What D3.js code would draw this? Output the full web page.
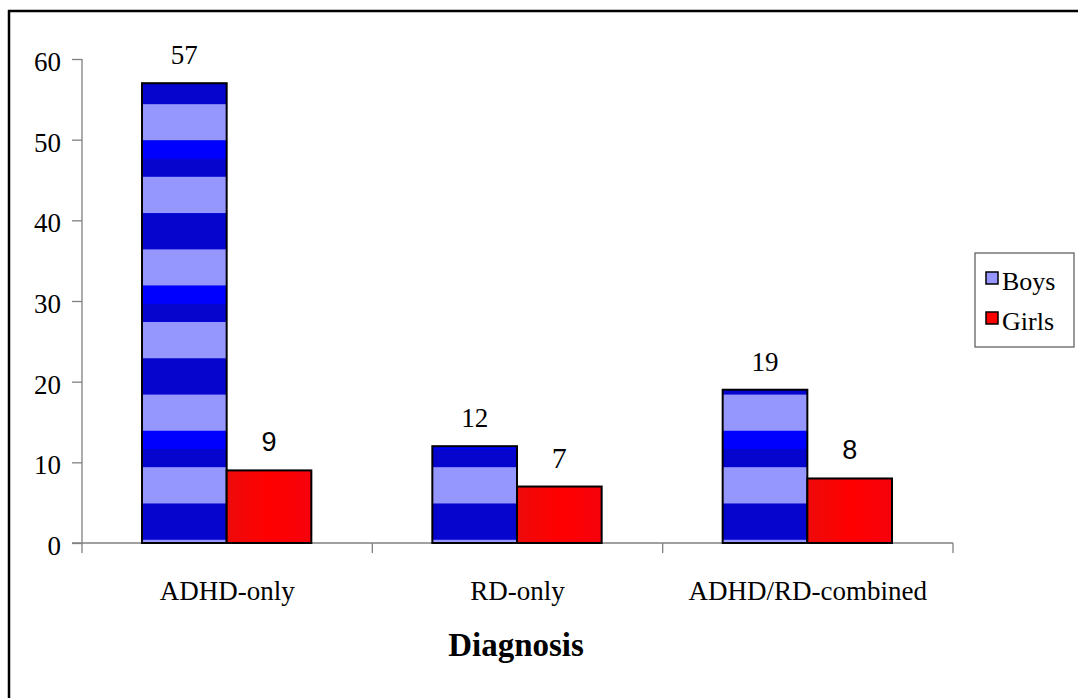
<!DOCTYPE html>
<html><head><meta charset="utf-8">
<script src="https://cdn.jsdelivr.net/npm/d3@7"></script>
<style>
html,body{margin:0;padding:0;background:#fff;}
svg{display:block;}
</style></head>
<body>
<svg id="chart" width="1078" height="698"></svg>
<script>
const categories = ["ADHD-only", "RD-only", "ADHD/RD-combined"];
const seriesNames = ["Boys", "Girls"];
const boys = [57, 12, 19];
const girls = [9, 7, 8];
const yTicks = [0, 10, 20, 30, 40, 50, 60];
const xTitle = "Diagnosis";

const svg = d3.select("#chart");
const serif = "'Liberation Serif','Times New Roman',serif";
const sans = "'Liberation Sans',Arial,sans-serif";

// frame
svg.append("line").attr("x1", 8).attr("x2", 1078).attr("y1", 11).attr("y2", 11).attr("stroke", "#000").attr("stroke-width", 2.5);
svg.append("line").attr("x1", 9).attr("x2", 9).attr("y1", 10).attr("y2", 698).attr("stroke", "#000").attr("stroke-width", 2.5);

const y = d3.scaleLinear().domain([0, 60]).range([543, 59]);
const x0 = d3.scaleBand().domain(categories).range([82, 953]).padding(0);
const x1 = d3.scaleBand().domain(seriesNames).range([60, x0.bandwidth() - 61]).padding(0);

const defs = svg.append("defs");
const rg = defs.append("linearGradient").attr("id", "redg").attr("x1", "0").attr("x2", "1").attr("y1", "0").attr("y2", "0");
rg.append("stop").attr("offset", "0").attr("stop-color", "#EE0A0A");
rg.append("stop").attr("offset", "0.5").attr("stop-color", "#FF0000");
rg.append("stop").attr("offset", "1").attr("stop-color", "#F6020C");

// y axis
const yAxis = svg.append("g").attr("transform", "translate(82,0)")
  .call(d3.axisLeft(y).tickValues(yTicks).tickSize(10).tickPadding(11));
yAxis.select(".domain").attr("stroke", "#808080").attr("stroke-width", 1.3).attr("d", "M0," + y(60) + "V" + y(0));
yAxis.selectAll(".tick line").attr("stroke", "#808080").attr("stroke-width", 1.3);
yAxis.selectAll(".tick text").attr("font-family", serif).attr("font-size", 27).attr("fill", "#000").attr("dy", "0.42em");

// x axis
const xAxisG = svg.append("g").attr("transform", "translate(0," + y(0) + ")");
xAxisG.append("line").attr("x1", 72).attr("x2", 953).attr("y1", 0).attr("y2", 0).attr("stroke", "#808080").attr("stroke-width", 1.3);
const bounds = categories.map(c => x0(c)).concat([x0(categories[categories.length - 1]) + x0.bandwidth()]);
xAxisG.selectAll("line.xt").data(bounds).enter().append("line").attr("class", "xt")
  .attr("x1", d => d).attr("x2", d => d).attr("y1", 0).attr("y2", 10)
  .attr("stroke", "#808080").attr("stroke-width", 1.3);
xAxisG.selectAll("text.cat").data(categories).enter().append("text").attr("class", "cat")
  .attr("x", d => x0(d) + x0.bandwidth() / 2).attr("y", 57)
  .attr("text-anchor", "middle").attr("font-family", serif).attr("font-size", 27).text(d => d);

svg.append("text").attr("x", 516).attr("y", 656).attr("text-anchor", "middle")
  .attr("font-family", serif).attr("font-size", 33).attr("font-weight", "bold").text(xTitle);

// stripe structure for boys bars (in value units)
const stripeStart = 0.4, stripeStep = 4.5;
const cLav = "#9696FF", cDark = "#0505CE", cBright = "#0000FF";

const groups = svg.append("g").selectAll("g").data(categories).enter().append("g")
  .attr("transform", d => "translate(" + x0(d) + ",0)");

groups.each(function (c, i) {
  const g = d3.select(this);
  const bx = x1("Boys"), bw = x1.bandwidth();
  const v = boys[i];
  const inner = g.append("g");
  inner.append("rect").attr("x", bx).attr("y", y(v)).attr("width", bw).attr("height", y(0) - y(v)).attr("fill", cLav);
  for (let k = 0; stripeStart + k * stripeStep < v; k++) {
    const lo = stripeStart + k * stripeStep;
    const hi = Math.min(lo + stripeStep, v);
    const type = k % 4;
    if (type === 0 || type === 2) {
      inner.append("rect").attr("x", bx).attr("y", y(hi)).attr("width", bw).attr("height", y(lo) - y(hi)).attr("fill", cDark);
      if (type === 2) {
        const mid = lo + stripeStep / 2;
        if (mid < v) {
          inner.append("rect").attr("x", bx).attr("y", y(hi)).attr("width", bw).attr("height", y(mid) - y(hi)).attr("fill", cBright);
        }
      }
    }
  }
  inner.append("rect").attr("x", bx).attr("y", y(v)).attr("width", bw).attr("height", y(0) - y(v))
    .attr("fill", "none").attr("stroke", "#000").attr("stroke-width", 2);

  const gx = x1("Girls"), gv = girls[i];
  g.append("rect").attr("x", gx).attr("y", y(gv)).attr("width", bw).attr("height", y(0) - y(gv))
    .attr("fill", "url(#redg)").attr("stroke", "#000").attr("stroke-width", 2);

  g.append("text").attr("x", bx + bw / 2).attr("y", y(v) - 19).attr("text-anchor", "middle")
    .attr("font-family", serif).attr("font-size", 27).text(v);
  g.append("text").attr("x", gx + bw / 2).attr("y", y(gv) - 19).attr("text-anchor", "middle")
    .attr("font-family", gv === 7 ? serif : sans).attr("font-size", gv === 7 ? 30 : 27).text(gv);
});

// legend
const lg = svg.append("g");
lg.append("rect").attr("x", 975).attr("y", 253).attr("width", 99).attr("height", 94)
  .attr("fill", "#fff").attr("stroke", "#555").attr("stroke-width", 1.2);
const legendColors = [cLav, "#FF0000"];
seriesNames.forEach((s, i) => {
  const yy = 278 + i * 40;
  lg.append("rect").attr("x", 986).attr("y", yy - 6).attr("width", 12).attr("height", 12)
    .attr("fill", legendColors[i]).attr("stroke", "#000").attr("stroke-width", 1.5);
  lg.append("text").attr("x", 1002).attr("y", yy + 12).attr("font-family", serif).attr("font-size", 26).text(s);
});
</script>
</body></html>
